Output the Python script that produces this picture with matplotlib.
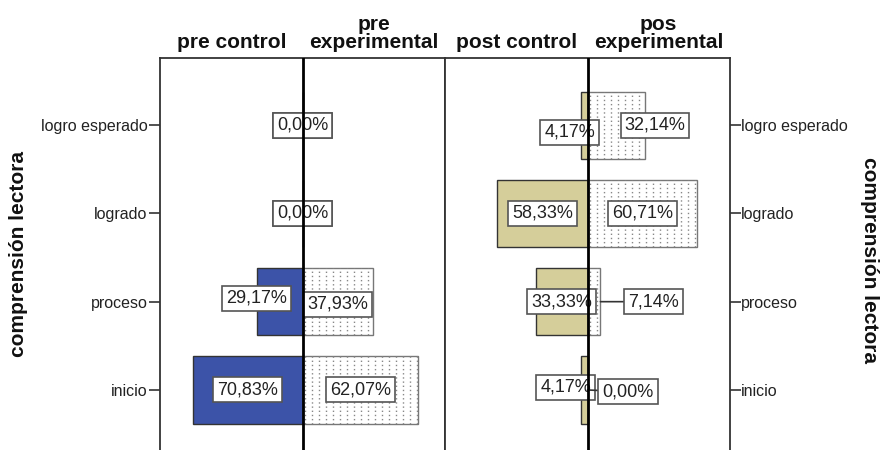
import numpy as np
import matplotlib.pyplot as plt

# niveles de comprension lectora (de abajo hacia arriba)
niveles = ["inicio", "proceso", "logrado", "logro esperado"]

# numero de estudiantes por nivel
pre_control = [17, 7, 0, 0]
pre_experimental = [18, 11, 0, 0]
post_control = [1, 8, 14, 1]
pos_experimental = [0, 2, 17, 9]

titulos = ["pre control", "pre\nexperimental", "post control", "pos\nexperimental"]

color_control = ["#3C53A8", "#D5CE9A"]

# desplazamiento de etiquetas (panel, lado, nivel): (dx, dy, linea guia)
ajustes = {
    (0, 0, 1): (-3.7, 0.04, False),
    (0, 1, 1): (0.0, -0.03, False),
    (1, 0, 3): (-2.25, -0.08, False),
    (1, 1, 3): (6.0, 0.0, False),
    (1, 1, 1): (9.3, 0.0, True),
    (1, 0, 0): (-2.9, 0.03, False),
    (1, 1, 0): (6.3, -0.02, True),
}

plt.rcParams['font.family'] = ['Liberation Sans', 'DejaVu Sans']

fig = plt.figure(figsize=(8.81, 4.5), dpi=100)

W = 285 / 881
H = (450 - 58) / 450
paneles = [(pre_control, pre_experimental), (post_control, pos_experimental)]
lim = 22.16
alto = 0.76
y = list(range(len(niveles)))

for p, (ctrl, expe) in enumerate(paneles):
    ax = fig.add_axes([(160 + 285 * p) / 881, 0, W, H])
    n_c = sum(ctrl)
    n_e = sum(expe)

    ax.barh(y, [-v for v in ctrl], height=alto, color=color_control[p],
            edgecolor="#333333", linewidth=1.0, zorder=2)
    barras = ax.barh(y, expe, height=alto, color="white", edgecolor="#777777",
                     linewidth=1.0, zorder=2)

    # trama de lineas punteadas verticales dentro de las barras experimentales
    for i, (b, v) in enumerate(zip(barras, expe)):
        if v == 0:
            continue
        xs = np.arange(0.45, v, 1.08)
        lc = ax.vlines(xs, i - alto / 2, i + alto / 2, colors="#888888",
                       linewidth=1.0, linestyles=(0, (1.0, 2.0)), zorder=2.5)
        lc.set_clip_path(b)

    for lado, (vals, n) in enumerate([(ctrl, n_c), (expe, n_e)]):
        signo = -1 if lado == 0 else 1
        for i, v in enumerate(vals):
            txt = f"{100 * v / n:.2f}%".replace(".", ",")
            dx, dy, guia = ajustes.get((p, lado, i), (0.0, 0.0, False))
            cx = signo * v / 2
            caja = dict(boxstyle="square,pad=0.22", fc="white", ec="#555555", lw=1.2)
            if guia:
                ax.annotate(txt, xy=(signo * v, i), xytext=(cx + dx, i + dy),
                            ha="center", va="center", fontsize=13, color="#222222",
                            bbox=caja, zorder=4,
                            arrowprops=dict(arrowstyle="-", color="#333333", lw=1.2,
                                            shrinkA=0, shrinkB=0))
            else:
                ax.text(cx + dx, i + dy, txt, ha="center", va="center", fontsize=13,
                        color="#222222", bbox=caja, zorder=4)

    ax.axvline(0, color="black", lw=2, zorder=5)
    ax.set_xlim(-lim, lim)
    ax.set_ylim(-0.68, 3.76)
    ax.set_xticks([])
    ax.set_yticks(y)
    ax.set_yticklabels(niveles, fontsize=11.5, color="#222222")
    ax.spines["bottom"].set_visible(False)
    for s in ["top", "left", "right"]:
        ax.spines[s].set_color("#333333")
        ax.spines[s].set_linewidth(1.3)
    if p == 0:
        ax.tick_params(axis="y", length=8, width=1.2, color="#333333", pad=1)
    else:
        ax.yaxis.tick_right()
        ax.tick_params(axis="y", length=8, width=1.2, color="#333333", pad=0)

    for k in range(2):
        xc = (160 + 285 * p + 71.25 + 142.5 * k) / 881
        fig.text(xc, 1 - 52 / 450, titulos[2 * p + k], ha="center", va="bottom",
                 fontsize=15, fontweight="bold", linespacing=0.95, color="#111111")

fig.text(19 / 881, 1 - 254 / 450, "comprensión lectora", rotation=90, ha="center",
         va="center", fontsize=15, fontweight="bold", color="#111111")
fig.text(869 / 881, 1 - 260 / 450, "comprensión lectora", rotation=270, ha="center",
         va="center", fontsize=15, fontweight="bold", color="#111111")

fig.savefig("out.png", dpi=100)
